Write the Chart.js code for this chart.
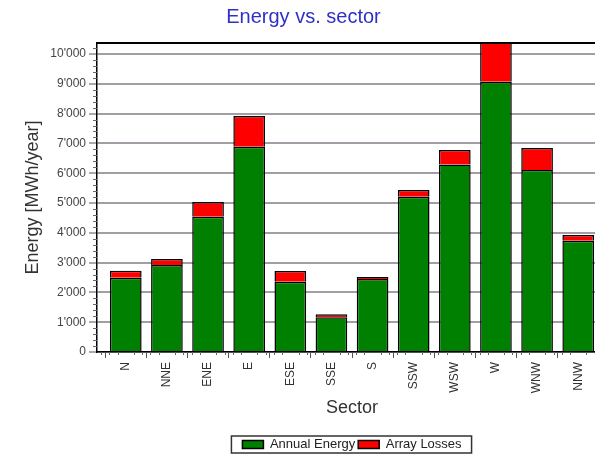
<!DOCTYPE html>
<html>
<head>
<meta charset="utf-8">
<script src="https://cdn.jsdelivr.net/npm/chart.js@4"></script>
<style>
  html, body { margin: 0; padding: 0; background: #fff; overflow: hidden; }
</style>
</head>
<body>
<canvas id="chart" width="620" height="455"></canvas>
<script>
const sectors = ["N", "NNE", "ENE", "E", "ESE", "SSE", "S", "SSW", "WSW", "W", "WNW", "NNW"];
const annualEnergy = [2490, 2920, 4540, 6890, 2360, 1170, 2450, 5210, 6290, 9070, 6110, 3730];
const arrayLosses = [240, 200, 490, 1030, 360, 100, 70, 230, 490, 1400, 740, 200];
const yTicks = [0, 1000, 2000, 3000, 4000, 5000, 6000, 7000, 8000, 9000, 10000];

// 10000 -> 10'000
const fmt = v => String(v).replace(/\B(?=(\d{3})+(?!\d))/g, "'");

Chart.defaults.font.family = "'Liberation Sans', Arial, sans-serif";

// small ticks between the labelled ones, plus the frame line on top
const axisExtras = {
  id: "axisExtras",
  afterDraw(chart) {
    const { ctx, chartArea, scales: { x, y } } = chart;
    ctx.save();
    ctx.strokeStyle = "#666";
    ctx.lineWidth = 1;
    ctx.beginPath();
    for (let v = 200; v < y.max; v += 200) {
      if (v % 1000 === 0) continue;
      const py = Math.round(y.getPixelForValue(v)) + 0.5;
      ctx.moveTo(chartArea.left - 4, py);
      ctx.lineTo(chartArea.left, py);
    }
    for (let k = Math.ceil(x.min * 5); k <= Math.floor(x.max * 5); k++) {
      if (k % 5 === 0) continue;
      const px = Math.round(x.getPixelForValue(k / 5)) + 0.5;
      ctx.moveTo(px, chartArea.bottom);
      ctx.lineTo(px, chartArea.bottom + 3);
    }
    ctx.stroke();

    ctx.strokeStyle = "#000";
    ctx.lineWidth = 2;
    ctx.beginPath();
    ctx.moveTo(chartArea.left, chartArea.top);
    ctx.lineTo(chart.width, chartArea.top);
    ctx.stroke();

    // frame round the legend
    const boxes = chart.legend.legendHitBoxes;
    if (boxes && boxes.length) {
      const l = Math.min(...boxes.map(b => b.left)) - 11;
      const r = Math.max(...boxes.map(b => b.left + b.width)) + 10;
      const t = Math.min(...boxes.map(b => b.top)) - 2;
      const btm = Math.max(...boxes.map(b => b.top + b.height)) + 2;
      ctx.strokeStyle = "#333";
      ctx.lineWidth = 1.5;
      ctx.strokeRect(l, t, r - l, btm - t);
    }
    ctx.restore();
  },
};

new Chart(document.getElementById("chart"), {
  type: "bar",
  data: {
    datasets: [
      {
        label: "Annual Energy",
        data: annualEnergy.map((v, i) => ({ x: i, y: v })),
        backgroundColor: "#008000",
        borderColor: "#000",
        borderWidth: 1.5,
      },
      {
        label: "Array Losses",
        data: arrayLosses.map((v, i) => ({ x: i, y: v })),
        backgroundColor: "#ff0000",
        borderColor: "#000",
        borderWidth: 1.5,
      },
    ],
  },
  options: {
    responsive: false,
    animation: false,
    categoryPercentage: 1,
    barPercentage: 0.77,
    layout: { padding: { left: 0, right: 13, top: 0, bottom: -6 } },
    plugins: {
      title: {
        display: true,
        text: "Energy vs. sector",
        color: "#3030c8",
        font: { size: 20, weight: "normal" },
        padding: { top: 5, bottom: 14 },
      },
      legend: {
        position: "bottom",
        fullSize: false,
        labels: {
          boxWidth: 21,
          boxHeight: 8,
          padding: 3,
          color: "#222",
          font: { size: 13 },
        },
      },
      tooltip: { enabled: false },
    },
    scales: {
      x: {
        type: "linear",
        offset: false,
        min: -0.7,
        max: 11.7,
        stacked: true,
        afterBuildTicks: s => { s.ticks = sectors.map((_, i) => ({ value: i })); },
        afterFit: s => { s.height = 83; },
        grid: { drawOnChartArea: false, tickLength: 6, tickColor: "#555", tickWidth: 1 },
        border: { color: "#000", width: 1.5 },
        ticks: {
          callback: v => sectors[v],
          minRotation: 90,
          maxRotation: 90,
          autoSkip: false,
          padding: 4,
          color: "#333",
          font: { size: 12 },
        },
        title: {
          display: true,
          text: "Sector",
          color: "#333",
          font: { size: 18 },
          padding: { top: 0, bottom: 16 },
        },
      },
      y: {
        min: 0,
        max: 10370,
        stacked: true,
        afterBuildTicks: s => { s.ticks = yTicks.map(v => ({ value: v })); },
        afterFit: s => { s.width = 97; },
        grid: { color: "#a59da5", lineWidth: 2, tickLength: 8, tickColor: "#555", tickWidth: 1 },
        border: { color: "#000", width: 1.5 },
        ticks: {
          callback: v => fmt(v),
          padding: 3,
          color: "#444",
          font: { size: 12 },
        },
        title: {
          display: true,
          text: "Energy [MWh/year]",
          color: "#333",
          font: { size: 18 },
          padding: { top: 22, bottom: 0 },
        },
      },
    },
  },
  plugins: [axisExtras],
});
</script>
</body>
</html>
